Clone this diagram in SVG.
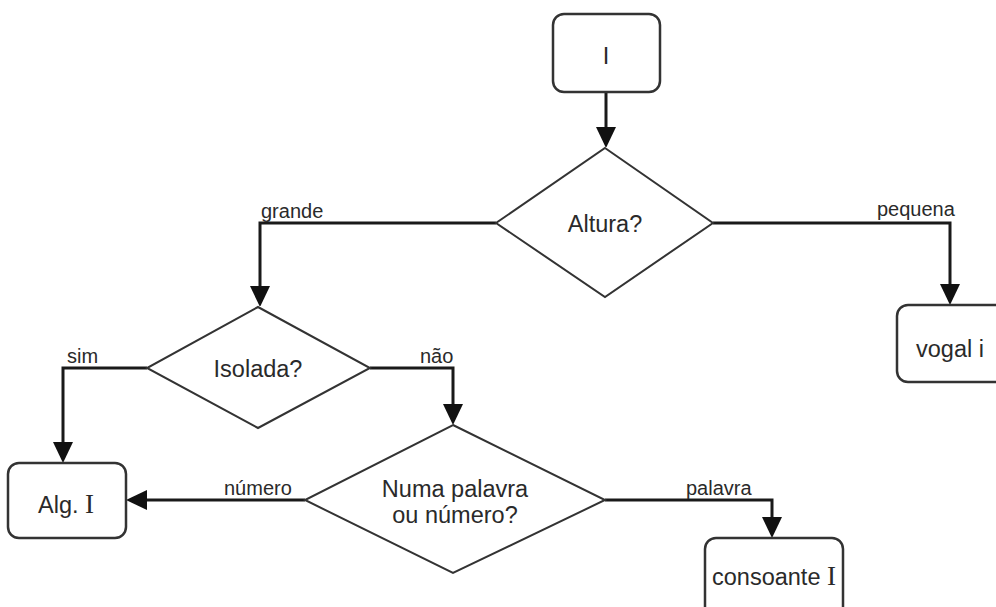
<svg xmlns="http://www.w3.org/2000/svg" width="996" height="607" viewBox="0 0 996 607">
  <style>
    .box { fill: #fff; stroke: #333; stroke-width: 2.5; }
    .dec { fill: #fff; stroke: #333; stroke-width: 2; }
    .wire { fill: none; stroke: #1a1a1a; stroke-width: 3; marker-end: url(#head); }
    .txt { font-family: "Liberation Sans", Arial, sans-serif; font-size: 23.5px; fill: #2a2a2a; text-anchor: middle; }
    .lbl { font-family: "Liberation Sans", Arial, sans-serif; font-size: 20px; fill: #2a2a2a; }
    .ser { font-family: "Liberation Serif", "Times New Roman", serif; }
  </style>
  <defs>
    <marker id="head" markerUnits="userSpaceOnUse" markerWidth="20" markerHeight="20" refX="17" refY="10" orient="auto">
      <path d="M0,0 L21,10 L0,20 z" fill="#111"/>
    </marker>
  </defs>

  <g id="connectors">
    <path class="wire" d="M606,93 V144"/>
    <path class="wire" d="M496,223 H260 V303"/>
    <path class="wire" d="M713,223 H950 V301"/>
    <path class="wire" d="M147,368 H63 V459"/>
    <path class="wire" d="M370,368 H453 V421"/>
    <path class="wire" d="M305,500 H130"/>
    <path class="wire" d="M605,500 H772 V534"/>
  </g>

  <g id="labels">
    <text class="lbl" x="261" y="218">grande</text>
    <text class="lbl" x="877" y="216">pequena</text>
    <text class="lbl" x="67" y="363">sim</text>
    <text class="lbl" x="420" y="363">não</text>
    <text class="lbl" x="224" y="495">número</text>
    <text class="lbl" x="686" y="495">palavra</text>
  </g>

  <g id="start">
    <rect class="box" x="553" y="14" width="107" height="78" rx="11"/>
    <text class="txt" x="606" y="64" font-size="29">I</text>
  </g>

  <g id="altura">
    <polygon class="dec" points="605,148 713,223 605,297 496,223"/>
    <text class="txt" x="605" y="232">Altura?</text>
  </g>

  <g id="vogal">
    <rect class="box" x="897" y="305" width="110" height="77" rx="11"/>
    <text class="txt" x="950" y="357">vogal i</text>
  </g>

  <g id="isolada">
    <polygon class="dec" points="258,307 370,368 258,428 147,368"/>
    <text class="txt" x="258" y="377">Isolada?</text>
  </g>

  <g id="alg">
    <rect class="box" x="8" y="463" width="118" height="75" rx="11"/>
    <text class="txt" x="66" y="513">Alg. <tspan class="ser" font-size="27">I</tspan></text>
  </g>

  <g id="numa">
    <polygon class="dec" points="453,425 605,500 453,573 305,500"/>
    <text class="txt" x="455" y="497">Numa palavra</text>
    <text class="txt" x="455" y="523">ou número?</text>
  </g>

  <g id="consoante">
    <rect class="box" x="705" y="538" width="138" height="80" rx="11"/>
    <text class="txt" x="774" y="585">consoante <tspan class="ser" font-size="27">I</tspan></text>
  </g>
</svg>
